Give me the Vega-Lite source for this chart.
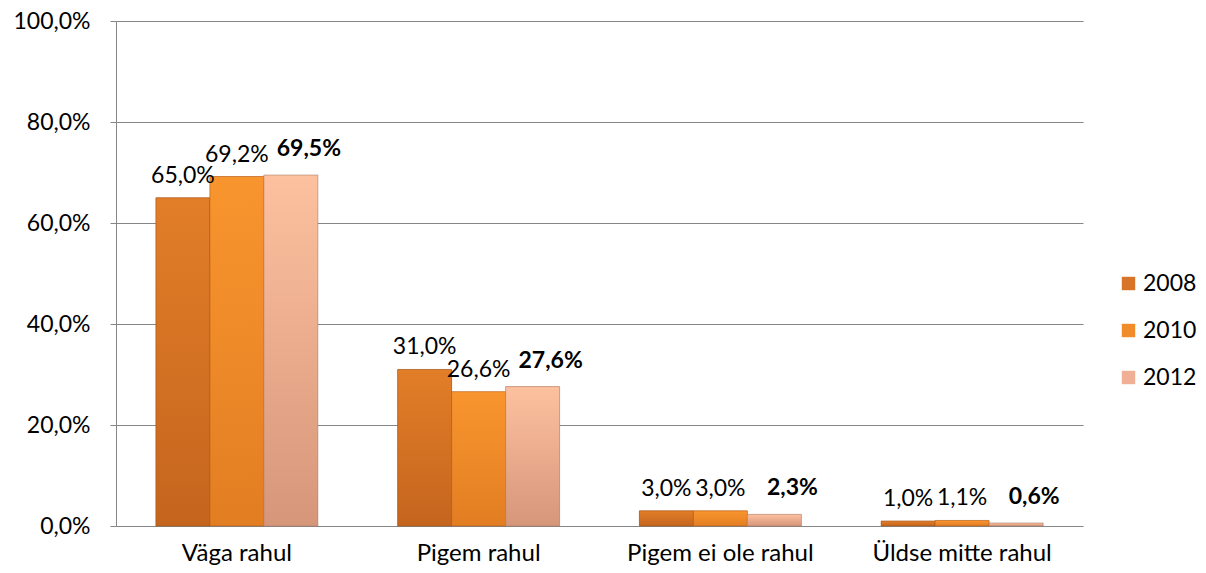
{
  "$schema": "https://vega.github.io/schema/vega-lite/v6.json",
  "width": 967,
  "height": 505,
  "autosize": {"type": "none"},
  "padding": {"left": 116, "top": 21, "right": 123, "bottom": 47},
  "background": "white",
  "config": {
    "locale": {"number": {"decimal": ",", "thousands": " ", "grouping": [3], "currency": ["", " €"]}},
    "view": {"stroke": null},
    "font": "Lato"
  },
  "data": {
    "values": [
      {"category": "Väga rahul", "year": "2008", "value": 0.650},
      {"category": "Väga rahul", "year": "2010", "value": 0.692},
      {"category": "Väga rahul", "year": "2012", "value": 0.695},
      {"category": "Pigem rahul", "year": "2008", "value": 0.310},
      {"category": "Pigem rahul", "year": "2010", "value": 0.266},
      {"category": "Pigem rahul", "year": "2012", "value": 0.276},
      {"category": "Pigem ei ole rahul", "year": "2008", "value": 0.030},
      {"category": "Pigem ei ole rahul", "year": "2010", "value": 0.030},
      {"category": "Pigem ei ole rahul", "year": "2012", "value": 0.023},
      {"category": "Üldse mitte rahul", "year": "2008", "value": 0.010},
      {"category": "Üldse mitte rahul", "year": "2010", "value": 0.011},
      {"category": "Üldse mitte rahul", "year": "2012", "value": 0.006}
    ]
  },
  "encoding": {
    "x": {
      "field": "category", "type": "nominal", "sort": null,
      "scale": {"paddingInner": 0.33, "paddingOuter": 0.165},
      "axis": {"title": null, "labelAngle": 0, "ticks": false, "domain": false, "labelFontSize": 24, "labelColor": "#000000", "labelPadding": 15, "labelLimit": 0, "labelFont": "Lato"}
    },
    "xOffset": {"field": "year", "type": "nominal", "scale": {"padding": 0}},
    "y": {
      "field": "value", "type": "quantitative",
      "scale": {"domain": [0, 1], "nice": false},
      "axis": {"title": null, "values": [0, 0.2, 0.4, 0.6, 0.8, 1.0], "format": ".1%", "labelFontSize": 23, "labelColor": "#000000", "labelPadding": 20, "tickSize": 6, "tickColor": "#868686", "domainColor": "#868686", "gridColor": "#868686", "gridOpacity": 1, "labelFont": "Lato"}
    }
  },
  "layer": [
    {
      "mark": {"type": "bar"},
      "encoding": {
        "color": {
          "field": "year", "type": "nominal",
          "scale": {"domain": ["2008", "2010", "2012"], "range": ["#D8732A", "#F08C2A", "#F0B095"]},
          "legend": {"title": null, "orient": "none", "legendX": 1001, "legendY": 251, "symbolType": "square", "symbolSize": 180, "labelFontSize": 23, "labelColor": "#000000", "rowPadding": 23, "labelOffset": 3, "symbolStrokeWidth": 0, "labelFont": "Lato"}
        }
      }
    },
    {
      "transform": [{"filter": "datum.year == '2008'"}],
      "mark": {"type": "bar", "stroke": "#9a5218", "strokeWidth": 0.8, "strokeOpacity": 0.7,
        "color": {"gradient": "linear", "x1": 0, "y1": 0, "x2": 0, "y2": 1, "stops": [{"offset": 0, "color": "#E27E28"}, {"offset": 1, "color": "#C5651E"}]}}
    },
    {
      "transform": [{"filter": "datum.year == '2010'"}],
      "mark": {"type": "bar", "stroke": "#a85a1c", "strokeWidth": 0.8, "strokeOpacity": 0.7,
        "color": {"gradient": "linear", "x1": 0, "y1": 0, "x2": 0, "y2": 1, "stops": [{"offset": 0, "color": "#F9952E"}, {"offset": 1, "color": "#E27E22"}]}}
    },
    {
      "transform": [{"filter": "datum.year == '2012'"}],
      "mark": {"type": "bar", "stroke": "#a87a66", "strokeWidth": 0.8, "strokeOpacity": 0.7,
        "color": {"gradient": "linear", "x1": 0, "y1": 0, "x2": 0, "y2": 1, "stops": [{"offset": 0, "color": "#FDC19F"}, {"offset": 1, "color": "#D6967A"}]}}
    },
    {
      "transform": [{"filter": "datum.year != '2012'"}],
      "mark": {"type": "text", "baseline": "bottom", "dy": -10, "fontSize": 23, "color": "#000000"},
      "encoding": {"text": {"field": "value", "type": "quantitative", "format": ".1%"}}
    },
    {
      "transform": [{"filter": "datum.year == '2012'"}],
      "mark": {"type": "text", "baseline": "bottom", "dy": -14, "dx": 18, "fontSize": 23, "fontWeight": "bold", "color": "#000000"},
      "encoding": {"text": {"field": "value", "type": "quantitative", "format": ".1%"}}
    }
  ]
}
